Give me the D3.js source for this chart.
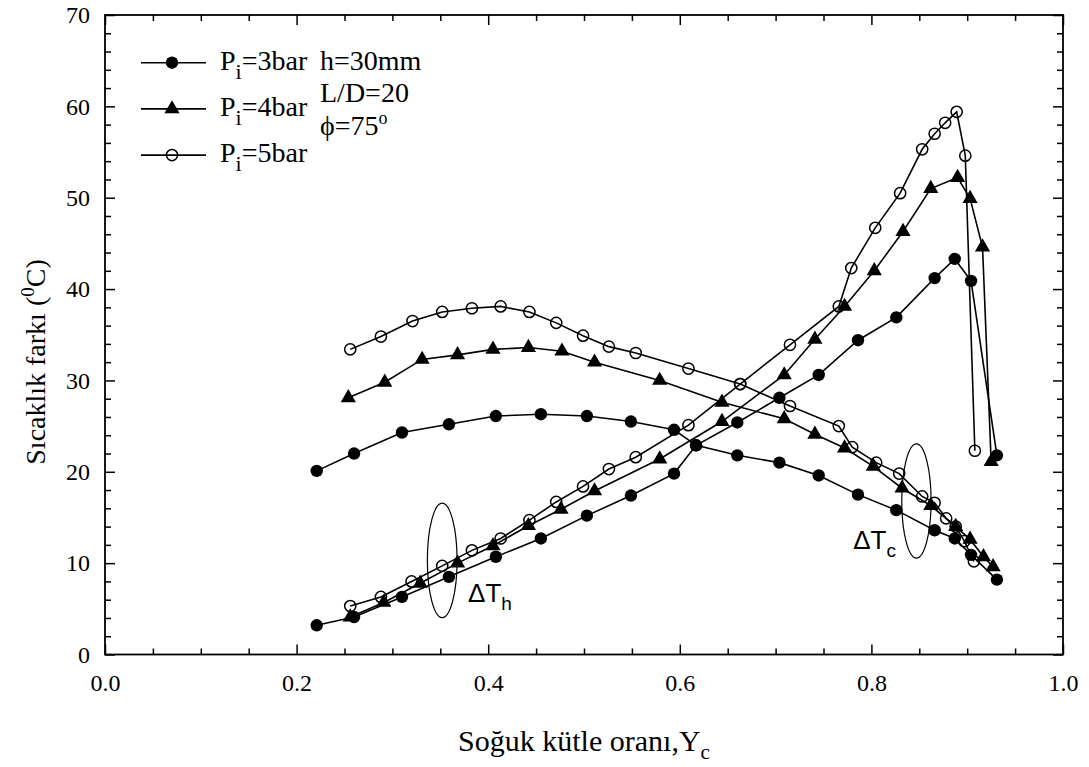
<!DOCTYPE html>
<html>
<head>
<meta charset="utf-8">
<script src="https://cdnjs.cloudflare.com/ajax/libs/d3/7.8.5/d3.min.js"></script>
<style>
body { margin: 0; background: #fff; }
text { font-family: "Liberation Serif", "Times New Roman", serif; fill: #000; }
.sans { font-family: "Liberation Sans", Arial, sans-serif; }
</style>
</head>
<body>
<script>

// Pi = 3 bar (filled circles)
var yc3Cold = [0.221,0.260,0.310,0.359,0.408,0.455,0.503,0.549,0.594,0.617,0.660,0.704,0.745,0.786,0.826,0.866,0.887,0.904,0.931];
var dt3Cold = [20.1,22.0,24.3,25.2,26.1,26.3,26.1,25.5,24.6,22.9,21.8,21.0,19.6,17.5,15.8,13.6,12.7,10.9,8.2];
var yc3Hot  = [0.221,0.260,0.310,0.359,0.408,0.455,0.503,0.549,0.594,0.617,0.660,0.704,0.745,0.786,0.826,0.866,0.887,0.904,0.931];
var dt3Hot  = [3.2,4.1,6.3,8.5,10.7,12.7,15.2,17.4,19.8,22.9,25.4,28.1,30.6,34.4,36.9,41.2,43.3,40.9,21.8];

// Pi = 4 bar (filled triangles)
var yc4Cold = [0.254,0.292,0.331,0.368,0.405,0.442,0.477,0.511,0.579,0.644,0.709,0.741,0.772,0.802,0.832,0.862,0.888,0.903,0.917,0.927];
var dt4Cold = [28.1,29.8,32.3,32.8,33.4,33.6,33.2,32.0,30.0,27.6,25.8,24.1,22.6,20.6,18.2,16.3,14.0,12.6,10.7,9.6];
var yc4Hot  = [0.256,0.291,0.329,0.368,0.405,0.442,0.476,0.511,0.579,0.644,0.709,0.741,0.772,0.803,0.833,0.862,0.890,0.903,0.916,0.925];
var dt4Hot  = [4.1,5.7,7.8,10.0,11.9,14.1,15.9,17.9,21.4,25.5,30.6,34.5,38.1,42.0,46.3,51.0,52.2,49.9,44.6,21.1];

// Pi = 5 bar (open circles)
var yc5Cold = [0.256,0.288,0.321,0.352,0.383,0.413,0.443,0.471,0.499,0.526,0.554,0.609,0.663,0.715,0.766,0.780,0.805,0.829,0.853,0.866,0.878,0.888,0.897,0.907];
var dt5Cold = [33.4,34.8,36.5,37.5,37.9,38.1,37.5,36.3,34.9,33.7,33.0,31.3,29.6,27.2,25.0,22.7,21.0,19.8,17.3,16.6,14.9,14.0,12.4,10.2];
var yc5Hot  = [0.256,0.288,0.320,0.352,0.383,0.413,0.443,0.471,0.499,0.526,0.554,0.609,0.663,0.715,0.766,0.779,0.804,0.830,0.853,0.866,0.877,0.889,0.898,0.908];
var dt5Hot  = [5.3,6.3,8.0,9.7,11.4,12.7,14.7,16.7,18.4,20.3,21.6,25.1,29.6,33.9,38.1,42.3,46.7,50.5,55.3,57.0,58.2,59.4,54.6,22.3];

var legendLabels = ["3bar", "4bar", "5bar"];
var xTicks = [0.0, 0.2, 0.4, 0.6, 0.8, 1.0];
var yTicks = [0, 10, 20, 30, 40, 50, 60, 70];

var width = 1089, height = 767;
var plotLeft = 105, plotRight = 1063, plotTop = 15, plotBottom = 654.5;

var svg = d3.select("body").append("svg")
	.attr("width", width)
	.attr("height", height);

var x = d3.scaleLinear().domain([0, 1]).range([plotLeft, plotRight]);
var y = d3.scaleLinear().domain([0, 70]).range([plotBottom, plotTop]);

var xMinor = d3.range(0, 1.0001, 0.05).filter(function(v){ return Math.abs(v * 5 - Math.round(v * 5)) > 1e-6; });
var yMinor = d3.range(0, 70.001, 2).filter(function(v){ return v % 10 !== 0; });

// frame
svg.append("rect")
	.attr("x", plotLeft).attr("y", plotTop)
	.attr("width", plotRight - plotLeft).attr("height", plotBottom - plotTop)
	.attr("fill", "none").attr("stroke", "#000").attr("stroke-width", 1.8);

function styleAxis(g){
	g.select(".domain").remove();
	g.selectAll(".tick line").attr("stroke", "#000").attr("stroke-width", 1.5);
	g.selectAll("text").style("font-size", "24px").attr("fill", "#000");
}

// bottom axis
svg.append("g").attr("transform", "translate(0," + plotBottom + ")")
	.call(d3.axisBottom(x).tickValues(xTicks).tickSize(-10).tickPadding(19).tickFormat(d3.format(".1f")))
	.call(styleAxis);
svg.append("g").attr("transform", "translate(0," + plotBottom + ")")
	.call(d3.axisBottom(x).tickValues(xMinor).tickSize(-6).tickFormat(""))
	.call(styleAxis);
// top axis
svg.append("g").attr("transform", "translate(0," + plotTop + ")")
	.call(d3.axisTop(x).tickValues(xTicks).tickSize(-10).tickFormat(""))
	.call(styleAxis);
svg.append("g").attr("transform", "translate(0," + plotTop + ")")
	.call(d3.axisTop(x).tickValues(xMinor).tickSize(-6).tickFormat(""))
	.call(styleAxis);
// left axis
svg.append("g").attr("transform", "translate(" + plotLeft + ",0)")
	.call(d3.axisLeft(y).tickValues(yTicks).tickSize(-10).tickPadding(15).tickFormat(d3.format("d")))
	.call(styleAxis);
svg.append("g").attr("transform", "translate(" + plotLeft + ",0)")
	.call(d3.axisLeft(y).tickValues(yMinor).tickSize(-6).tickFormat(""))
	.call(styleAxis);
// right axis
svg.append("g").attr("transform", "translate(" + plotRight + ",0)")
	.call(d3.axisRight(y).tickValues(yTicks).tickSize(-10).tickFormat(""))
	.call(styleAxis);
svg.append("g").attr("transform", "translate(" + plotRight + ",0)")
	.call(d3.axisRight(y).tickValues(yMinor).tickSize(-6).tickFormat(""))
	.call(styleAxis);

// axis titles
var xTitle = svg.append("text")
	.attr("x", (plotLeft + plotRight) / 2).attr("y", 751)
	.attr("text-anchor", "middle")
	.style("font-size", "30px")
	.text("Soğuk kütle oranı,Y");
xTitle.append("tspan").attr("dy", 8).style("font-size", "21px").text("c");

var yTitle = svg.append("text")
	.attr("transform", "translate(45,362) rotate(-90)")
	.attr("text-anchor", "middle")
	.style("font-size", "28px")
	.text("Sıcaklık farkı (");
yTitle.append("tspan").attr("dy", -11).style("font-size", "19px").text("0");
yTitle.append("tspan").attr("dy", 11).text("C)");

// series
function pts(xs, ys){
	return xs.map(function(v, i){ return [v, ys[i]]; });
}
var series = [
	{data: pts(yc3Cold, dt3Cold), sym: 0},
	{data: pts(yc3Hot, dt3Hot), sym: 0},
	{data: pts(yc4Cold, dt4Cold), sym: 1},
	{data: pts(yc4Hot, dt4Hot), sym: 1},
	{data: pts(yc5Cold, dt5Cold), sym: 2},
	{data: pts(yc5Hot, dt5Hot), sym: 2}
];

var line = d3.line()
	.x(function(d){ return x(d[0]); })
	.y(function(d){ return y(d[1]); });

svg.selectAll(".series-line")
	.data(series)
	.enter()
	.append("path")
	.attr("class", "series-line")
	.attr("d", function(s){ return line(s.data); })
	.attr("fill", "none")
	.attr("stroke", "#000")
	.attr("stroke-width", 1.6);

var triangle = d3.symbol().type(d3.symbolTriangle).size(100);

function drawMarker(g, sym){
	if (sym === 0){
		g.append("circle").attr("r", 6.2).attr("fill", "#000");
	} else if (sym === 1){
		g.append("path").attr("d", triangle).attr("fill", "#000");
	} else {
		g.append("circle").attr("r", 5.6).attr("fill", "none").attr("stroke", "#000").attr("stroke-width", 1.5);
	}
}

series.forEach(function(s){
	svg.append("g").selectAll("g")
		.data(s.data)
		.enter()
		.append("g")
		.attr("transform", function(d){ return "translate(" + x(d[0]) + "," + y(d[1]) + ")"; })
		.each(function(){ drawMarker(d3.select(this), s.sym); });
});

// legend
var legend = svg.append("g");
legendLabels.forEach(function(lab, i){
	var ly = 62.7 + i * 46.2;
	legend.append("line")
		.attr("x1", 141).attr("x2", 206)
		.attr("y1", ly).attr("y2", ly)
		.attr("stroke", "#000").attr("stroke-width", 1.6);
	var m = legend.append("g").attr("transform", "translate(172," + ly + ")");
	drawMarker(m, i);
	var t = legend.append("text")
		.attr("x", 220).attr("y", ly + 7)
		.style("font-size", "28px")
		.text("P");
	t.append("tspan").attr("dy", 9).style("font-size", "22px").text("i");
	t.append("tspan").attr("dy", -9).text("=" + lab);
});

var info = ["h=30mm", "L/D=20"];
info.forEach(function(s, i){
	legend.append("text")
		.attr("x", 320).attr("y", 69.5 + i * 32.5)
		.style("font-size", "28px")
		.text(s);
});
var phi = legend.append("text")
	.attr("x", 320).attr("y", 135)
	.style("font-size", "28px")
	.text("ϕ=75");
phi.append("tspan").attr("dy", -11).style("font-size", "18px").text("o");

// annotations
function ellipse(cx, cy, rx, ry){
	svg.append("ellipse")
		.attr("cx", x(cx)).attr("cy", y(cy))
		.attr("rx", x(cx + rx) - x(cx))
		.attr("ry", y(cy - ry) - y(cy))
		.attr("fill", "none").attr("stroke", "#000").attr("stroke-width", 1.2);
}
ellipse(0.352, 10.3, 0.0155, 6.26);
ellipse(0.847, 16.8, 0.0153, 6.26);

function deltaLabel(lx, ly, sub){
	var t = svg.append("text").attr("class", "sans")
		.attr("x", x(lx)).attr("y", y(ly))
		.style("font-size", "26px")
		.text("ΔT");
	t.append("tspan").attr("dy", 8).style("font-size", "19px").text(sub);
}
deltaLabel(0.379, 5.8, "h");
deltaLabel(0.781, 11.6, "c");

</script>
</body>
</html>
